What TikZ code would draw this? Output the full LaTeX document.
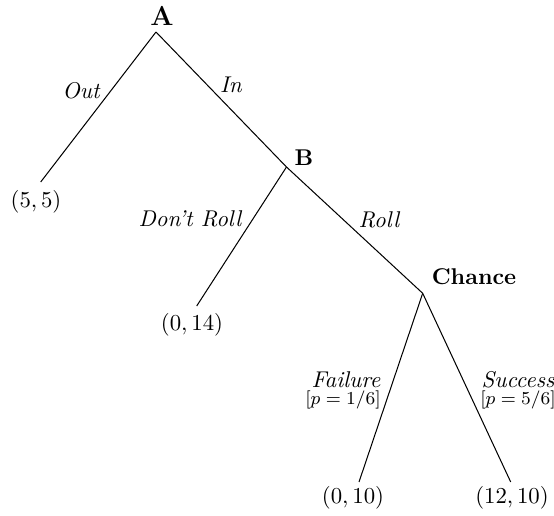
\documentclass[tikz,border=0pt]{standalone}
\begin{document}
\begin{tikzpicture}[x=0.4386pt,y=-0.4386pt,
  branch/.style={draw=black,line width=0.45pt},
  player/.style={font=\bfseries,inner sep=0pt},
  act/.style={font=\itshape,inner sep=0pt},
  prob/.style={font=\footnotesize,inner sep=0pt},
  payoff/.style={inner sep=0pt}]
\useasboundingbox (0,0) rectangle (554,516);
% decision vertices
\coordinate (A) at (156,32);
\coordinate (B) at (286.5,167);
\coordinate (C) at (422.7,293.3);
% branch end points
\coordinate (eOut) at (40.7,182);
\coordinate (eDR) at (196.7,306);
\coordinate (eF) at (359,482);
\coordinate (eS) at (510.7,482);
% player labels
\node[player] (lA) at (162,16) {\large A};
\node[player] (lB) at (304,158) {B};
\node[player] (lC) at (474,277) {Chance};
% payoffs
\node[payoff] (pOut) at (36,202) {$(5,5)$};
\node[payoff] (pDR) at (192,325) {$(0,14)$};
\node[payoff] (pF) at (353,498) {$(0,10)$};
\node[payoff] (pS) at (512,498) {$(12,10)$};
% branches
\draw[branch] (A) -- (eOut);
\draw[branch] (A) -- (B);
\draw[branch] (B) -- (eDR);
\draw[branch] (B) -- (C);
\draw[branch] (C) -- (eF);
\draw[branch] (C) -- (eS);
% action labels
\node[act] (tOut) at (81,91) {Out};
\node[act] (tIn) at (231,85) {In};
\node[act] (tDR) at (190,219) {Don't Roll};
\node[act] (tR) at (379,220) {Roll};
\node[act] (tF) at (346,380) {Failure};
\node[prob] (qF) at (343,400) {$[p=1/6]$};
\node[act] (tS) at (518,380) {Success};
\node[prob] (qS) at (518,400) {$[p=5/6]$};
\end{tikzpicture}
\end{document}
